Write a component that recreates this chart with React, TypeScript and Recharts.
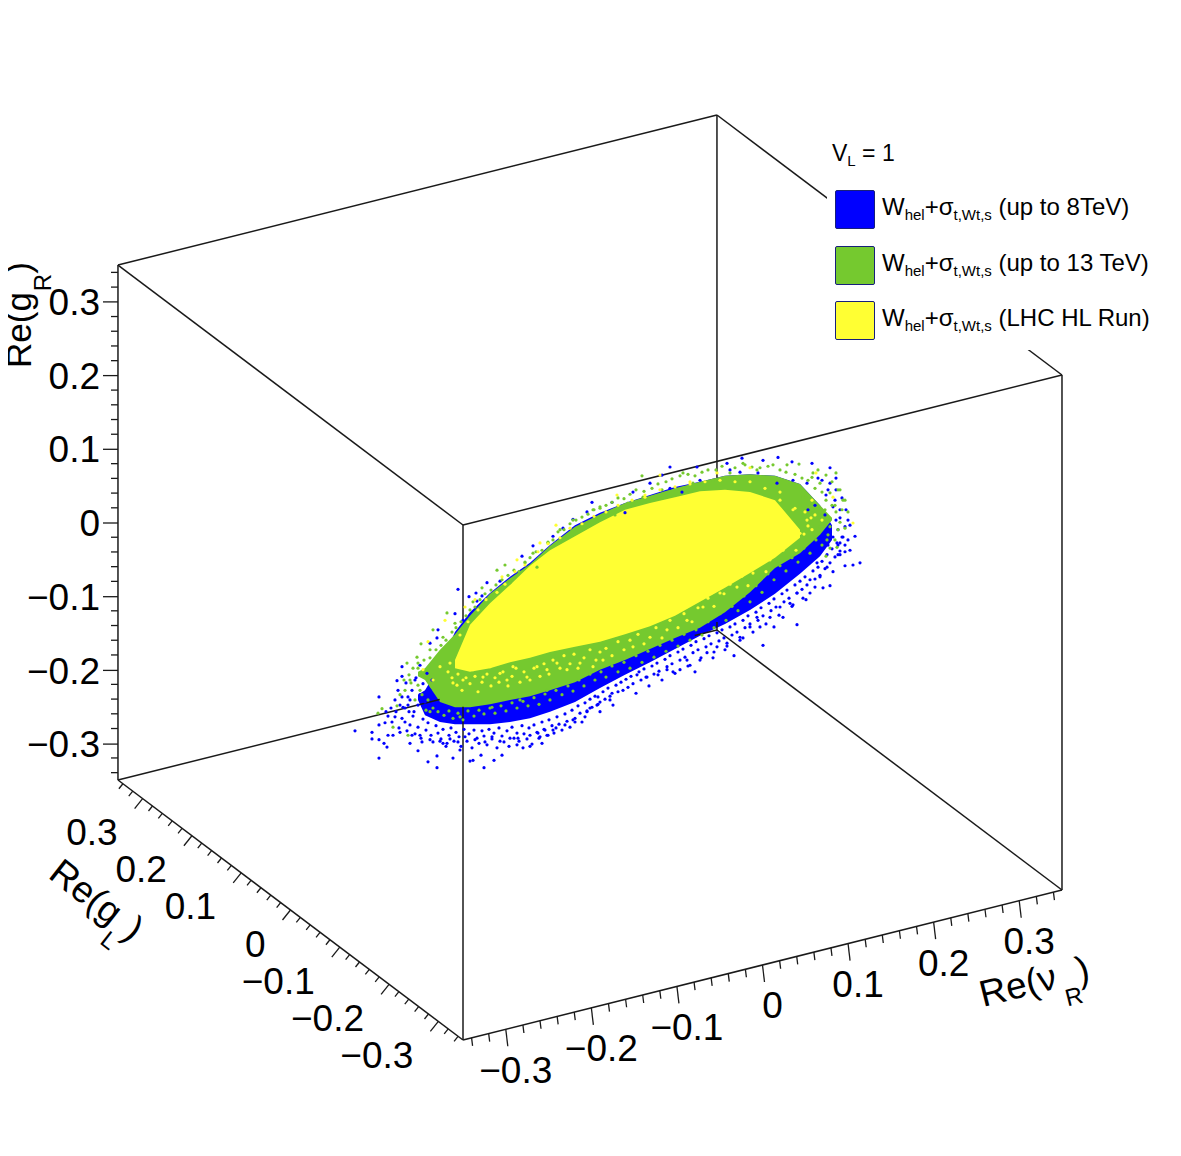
import React from "react";
import { ComposedChart, Area, Scatter, XAxis, YAxis, ReferenceLine, ReferenceDot, Legend } from "recharts";

const FONT = "'Liberation Sans', Arial, sans-serif";
const WIDTH = 1181;
const HEIGHT = 1156;

// axis values
const majorTicks = [-0.3, -0.2, -0.1, 0, 0.1, 0.2, 0.3];
const minorTicks = [-0.34, -0.32, -0.28, -0.26, -0.24, -0.22, -0.18, -0.16, -0.14, -0.12, -0.08, -0.06, -0.04, -0.02, 0.02, 0.04, 0.06, 0.08, 0.12, 0.14, 0.16, 0.18, 0.22, 0.24, 0.26, 0.28, 0.32, 0.34];
const tickText = ["\u22120.3", "\u22120.2", "\u22120.1", "0", "0.1", "0.2", "0.3"];
const boxMin = -0.35;
const boxMax = 0.35;

// legend
const legendTitle = "V";
const seriesColors = ["#0000ff", "#75c92f", "#ffff33"];
const seriesNotes = ["(up to 8TeV)", "(up to 13 TeV)", "(LHC HL Run)"];

// envelope of the dense cloud: picture-plane abscissa, then Re(g_R)-equivalent height per colour
const cloudX = [418, 425, 440, 455, 470, 490, 510, 530, 550, 575, 600, 625, 650, 675, 700, 725, 750, 775, 800, 820, 832];
const blueLow = [-0.24, -0.261, -0.27, -0.273, -0.273, -0.273, -0.27, -0.265, -0.256, -0.243, -0.224, -0.206, -0.189, -0.171, -0.153, -0.137, -0.118, -0.096, -0.069, -0.045, -0.023];
const blueHigh = [-0.233, -0.227, -0.193, -0.148, -0.121, -0.095, -0.073, -0.054, -0.03, -0.003, 0.014, 0.027, 0.038, 0.049, 0.056, 0.064, 0.066, 0.064, 0.053, 0.024, -0.003];
const greenLow = [-0.208, -0.213, -0.243, -0.25, -0.25, -0.246, -0.24, -0.235, -0.227, -0.216, -0.199, -0.186, -0.171, -0.156, -0.142, -0.121, -0.094, -0.061, -0.041, -0.016, 0.004];
const greenHigh = [-0.202, -0.197, -0.172, -0.151, -0.126, -0.096, -0.075, -0.056, -0.031, -0.005, 0.012, 0.027, 0.037, 0.047, 0.056, 0.064, 0.066, 0.064, 0.053, 0.024, 0.007];
const yellowLow = [null, null, null, -0.197, -0.202, -0.197, -0.189, -0.183, -0.175, -0.168, -0.161, -0.151, -0.14, -0.126, -0.107, -0.088, -0.068, -0.047, -0.02, null, null];
const yellowHigh = [null, null, null, -0.186, -0.138, -0.109, -0.084, -0.058, -0.037, -0.018, 0.001, 0.018, 0.027, 0.035, 0.043, 0.045, 0.042, 0.031, -0.009, null, null];

// individually visible points
const bluePoints = [
  [355, -0.282], [372, -0.284], [372, -0.293], [379, -0.294], [379, -0.236], [379, -0.319], [384, -0.299], [387, -0.304], [388, -0.288], [393, -0.288],
  [397, -0.214], [402, -0.208], [402, -0.195], [405, -0.27], [409, -0.256], [410, -0.299], [418, -0.309], [422, -0.297], [428, -0.324], [437, -0.332],
  [437, -0.316], [443, -0.299], [447, -0.299], [453, -0.319], [460, -0.308], [470, -0.323], [473, -0.322], [481, -0.315], [484, -0.332], [494, -0.322],
  [502, -0.315], [517, -0.301], [523, -0.305], [530, -0.303], [542, -0.299], [548, -0.288], [540, -0.29], [553, -0.281], [573, -0.267], [585, -0.263],
  [597, -0.247], [610, -0.24], [458, -0.09], [469, -0.1], [476, -0.095], [522, -0.045], [533, -0.031], [553, -0.018], [563, -0.007], [573, 0.005],
  [587, 0.015], [592, 0.028], [500, -0.079], [487, -0.081], [482, -0.099], [477, -0.106], [463, -0.132], [455, -0.123], [438, -0.145], [437, -0.156],
  [430, -0.163], [420, -0.193], [415, -0.213], [408, -0.236], [403, -0.25], [395, -0.263], [385, -0.271], [379, -0.274],
  [400, -0.284], [412, -0.288], [420, -0.288], [430, -0.294], [440, -0.296], [450, -0.293], [458, -0.297], [465, -0.29], [475, -0.294], [485, -0.297],
  [492, -0.29], [500, -0.296], [510, -0.292], [518, -0.292], [530, -0.288], [538, -0.285], [545, -0.281], [556, -0.278], [565, -0.274], [575, -0.27],
  [587, -0.256], [600, -0.243], [612, -0.231], [598, -0.236], [590, -0.251],
  [860, -0.054], [853, -0.057], [845, -0.058], [855, -0.018], [848, 0.004], [845, -0.039], [840, -0.043], [833, -0.066], [830, -0.085], [823, -0.088],
  [815, -0.087], [806, -0.104], [803, -0.102], [797, -0.138], [793, -0.111], [783, -0.128], [774, -0.141], [763, -0.166], [757, -0.128], [743, -0.156],
  [734, -0.18], [725, -0.172], [713, -0.183], [700, -0.186], [695, -0.202], [687, -0.186], [673, -0.202], [658, -0.206], [812, 0.081], [792, 0.083],
  [778, 0.089], [763, 0.085], [742, 0.088], [727, 0.081], [697, 0.076], [670, 0.076], [662, 0.065], [650, 0.054], [633, 0.042], [612, 0.028],
  [830, 0.075], [830, 0.054], [833, 0.022], [840, 0.007], [808, 0.018], [818, -0.033], [800, -0.05], [817, -0.054], [807, 0.054], [793, 0.058],
  [777, 0.054], [758, 0.068], [740, 0.069], [730, 0.072], [700, 0.058], [682, 0.042], [670, 0.047], [625, 0.014], [833, -0.019], [843, -0.019],
  [840, -0.027], [827, -0.06], [820, -0.073], [810, -0.077], [797, -0.095], [790, -0.109], [780, -0.114], [770, -0.128], [760, -0.141], [750, -0.141],
  [740, -0.155], [727, -0.163], [717, -0.168], [707, -0.176], [690, -0.193], [680, -0.199], [667, -0.199], [647, -0.209], [637, -0.206],
];
const blueFringe = [
  [388, -0.262], [392, -0.27], [396, -0.256], [399, -0.278], [402, -0.265], [405, -0.251], [407, -0.282], [410, -0.274], [413, -0.262], [415, -0.286],
  [418, -0.277], [421, -0.292], [423, -0.266], [426, -0.281], [428, -0.271], [431, -0.288], [433, -0.297], [436, -0.275], [438, -0.285], [441, -0.293],
  [443, -0.28], [446, -0.303], [449, -0.288], [451, -0.278], [454, -0.296], [456, -0.284], [459, -0.29], [461, -0.303], [464, -0.28], [467, -0.296],
  [469, -0.286], [472, -0.305], [474, -0.281], [477, -0.292], [479, -0.299], [482, -0.282], [484, -0.289], [487, -0.301], [489, -0.28], [492, -0.293],
  [494, -0.285], [497, -0.305], [499, -0.278], [502, -0.289], [504, -0.297], [507, -0.282], [509, -0.303], [512, -0.277], [514, -0.292], [517, -0.285],
  [519, -0.296], [522, -0.275], [524, -0.286], [527, -0.293], [529, -0.278], [532, -0.3], [534, -0.274], [537, -0.284], [539, -0.292], [542, -0.27],
  [544, -0.28], [547, -0.288], [549, -0.267], [552, -0.275], [554, -0.285], [557, -0.263], [559, -0.273], [562, -0.281], [565, -0.259], [567, -0.269],
  [570, -0.277], [572, -0.254], [575, -0.265], [578, -0.248], [580, -0.258], [582, -0.27], [585, -0.244], [587, -0.255], [590, -0.239], [592, -0.25],
  [595, -0.235], [598, -0.246], [600, -0.256], [603, -0.229], [605, -0.239], [608, -0.224], [610, -0.235], [613, -0.247], [616, -0.22], [618, -0.229],
  [621, -0.216], [623, -0.227], [626, -0.212], [628, -0.223], [631, -0.208], [633, -0.218], [636, -0.231], [639, -0.202], [641, -0.213], [644, -0.198],
  [646, -0.209], [649, -0.221], [652, -0.194], [654, -0.205], [657, -0.19], [659, -0.201], [662, -0.213], [665, -0.185], [667, -0.195], [670, -0.18],
  [672, -0.191], [675, -0.204], [678, -0.175], [680, -0.186], [683, -0.171], [685, -0.182], [688, -0.194], [691, -0.166], [693, -0.176], [696, -0.161],
  [698, -0.172], [701, -0.183], [704, -0.157], [706, -0.168], [709, -0.153], [711, -0.164], [714, -0.175], [717, -0.149], [719, -0.16], [722, -0.145],
  [724, -0.156], [727, -0.167], [730, -0.141], [732, -0.152], [735, -0.137], [737, -0.148], [740, -0.159], [743, -0.132], [745, -0.142], [748, -0.126],
  [750, -0.137], [753, -0.148], [756, -0.121], [758, -0.132], [761, -0.115], [763, -0.126], [766, -0.137], [769, -0.109], [771, -0.119], [774, -0.103],
  [776, -0.114], [779, -0.125], [782, -0.096], [784, -0.107], [787, -0.091], [789, -0.102], [792, -0.113], [795, -0.084], [797, -0.095], [800, -0.079],
  [802, -0.09], [805, -0.073], [807, -0.084], [810, -0.095], [813, -0.065], [815, -0.076], [818, -0.06], [820, -0.071], [822, -0.052], [825, -0.062],
  [827, -0.043], [830, -0.054], [832, -0.035], [835, -0.046], [837, -0.027], [840, -0.038], [842, -0.019], [838, -0.009], [836, 0.004], [828, -0.009],
  [823, -0.023], [826, 0.038], [835, 0.031], [840, 0.018], [845, -0.005], [848, -0.023], [825, 0.011], [815, 0.024], [838, -0.03],
];
const blueTips = [
  [398, -0.227], [402, -0.236], [406, -0.217], [410, -0.24], [412, -0.227], [416, -0.21], [418, -0.247], [420, -0.233], [423, -0.218], [425, -0.243],
  [427, -0.204], [430, -0.227], [432, -0.213], [414, -0.256], [408, -0.247], [400, -0.247], [395, -0.24], [391, -0.251], [386, -0.256],
  [822, 0.058], [828, 0.045], [836, 0.045], [842, 0.034], [846, 0.018], [850, -0.003], [836, 0.061], [818, 0.061], [845, -0.03], [850, -0.037],
  [838, -0.043], [828, -0.03],
];
const greenPoints = [
  [836, 0.068], [799, 0.08], [787, 0.079], [773, 0.079], [757, 0.072], [743, 0.081], [730, 0.068], [713, 0.058], [693, 0.054], [683, 0.068],
  [662, 0.045], [642, 0.064], [643, 0.035], [628, 0.027], [615, 0.011], [843, 0.031], [848, 0.015], [845, -0.007], [838, 0.045], [820, 0.054],
  [813, 0.068], [830, 0.041], [837, -0.033], [827, -0.023], [820, -0.005], [830, -0.005], [813, 0.014], [803, 0.035],
  [378, -0.258], [382, -0.252], [407, -0.19], [421, -0.164], [433, -0.145], [447, -0.122], [473, -0.107], [482, -0.088], [505, -0.057], [497, -0.064],
  [525, -0.054], [533, -0.041], [548, -0.027], [560, -0.009], [573, 0.004], [593, 0.018], [600, 0.022], [417, -0.182], [410, -0.213], [393, -0.277],
  [408, -0.288], [418, -0.19], [430, -0.172], [443, -0.155], [455, -0.136], [483, -0.114], [510, -0.081], [537, -0.06], [567, -0.019], [587, 0],
  [460, -0.263], [492, -0.25], [520, -0.24], [547, -0.227],
];
const greenTopFringe = [
  [418, -0.197], [424, -0.186], [430, -0.183], [436, -0.172], [441, -0.166], [446, -0.159], [452, -0.148], [456, -0.142], [461, -0.134], [466, -0.126],
  [470, -0.118], [475, -0.114], [480, -0.104], [485, -0.096], [491, -0.091], [496, -0.084], [502, -0.077], [508, -0.071], [514, -0.064], [519, -0.066],
  [525, -0.053], [530, -0.047], [536, -0.039], [542, -0.037], [548, -0.026], [553, -0.023], [558, -0.012], [564, -0.009], [570, -0.001], [576, 0.004],
  [582, 0.008], [588, 0.012], [594, 0.018], [600, 0.02], [606, 0.024], [612, 0.028], [618, 0.034], [624, 0.033], [630, 0.039], [636, 0.045],
  [644, 0.043], [652, 0.047], [658, 0.053], [666, 0.056], [672, 0.06], [680, 0.064], [688, 0.066], [695, 0.064], [702, 0.069], [708, 0.072],
  [716, 0.072], [722, 0.077], [735, 0.075], [745, 0.079], [752, 0.076], [760, 0.075], [768, 0.077], [780, 0.072], [786, 0.069], [795, 0.066],
  [802, 0.061], [808, 0.058], [815, 0.047], [822, 0.042], [826, 0.031], [832, 0.024], [836, 0.015], [840, 0.001], [842, 0.018], [838, -0.009],
  [835, -0.023], [830, -0.034], [826, -0.045],
];
const greenLowFringe = [
  [420, -0.227], [428, -0.24], [433, -0.251], [438, -0.256], [444, -0.261], [449, -0.255], [453, -0.265], [458, -0.258], [463, -0.267], [468, -0.255],
  [474, -0.262], [479, -0.254], [484, -0.259], [490, -0.251], [495, -0.258], [501, -0.248], [506, -0.255], [512, -0.244], [517, -0.251], [523, -0.242],
  [528, -0.248], [534, -0.237], [539, -0.246], [545, -0.232], [550, -0.24], [556, -0.227], [562, -0.233], [568, -0.221], [573, -0.228], [579, -0.213],
  [584, -0.221], [590, -0.205], [595, -0.213], [601, -0.202], [606, -0.209], [612, -0.194], [618, -0.202], [624, -0.189], [630, -0.197], [636, -0.18],
  [642, -0.189], [648, -0.174], [654, -0.182], [660, -0.166], [666, -0.174], [672, -0.159], [678, -0.167], [684, -0.151], [690, -0.159], [696, -0.145],
  [702, -0.152], [708, -0.134], [714, -0.142], [720, -0.123], [726, -0.132], [732, -0.113], [738, -0.119], [744, -0.099], [750, -0.107], [756, -0.085],
  [762, -0.094], [768, -0.069], [774, -0.077], [780, -0.058], [786, -0.065], [792, -0.047], [798, -0.053], [804, -0.034], [810, -0.041], [816, -0.023],
  [822, -0.03], [828, -0.016],
];
const greenTips = [
  [400, -0.233], [405, -0.227], [409, -0.206], [413, -0.197], [418, -0.22], [422, -0.233], [415, -0.24], [426, -0.254], [430, -0.256], [411, -0.217],
  [404, -0.213], [397, -0.248],
  [825, 0.018], [830, 0.004], [835, 0.024], [840, 0.045], [820, 0.011], [826, 0.065], [832, 0.056], [845, 0.031], [818, 0.072], [812, 0.062],
];
const yellowPoints = [
  [556, -0.003], [540, -0.027], [517, -0.05], [502, -0.073], [475, -0.104], [465, -0.114], [445, -0.132], [428, -0.161], [853, 0], [816, 0.068],
  [833, 0.035], [750, 0.075], [717, 0.068], [690, 0.056], [660, 0.065], [645, 0.035], [617, 0.038],
  [457, -0.22], [463, -0.213], [473, -0.199], [483, -0.209], [490, -0.195], [500, -0.204], [507, -0.213], [513, -0.195], [527, -0.209], [537, -0.195],
  [547, -0.199], [557, -0.19], [567, -0.199], [580, -0.19], [593, -0.195], [603, -0.186], [450, -0.19], [440, -0.195], [453, -0.217], [433, -0.213],
  [423, -0.199], [633, -0.168], [650, -0.155], [667, -0.145], [687, -0.132], [703, -0.114], [720, -0.095], [737, -0.087], [753, -0.068], [770, -0.05],
  [783, -0.037], [800, -0.014], [807, 0.004], [793, 0.018], [780, 0.031], [815, 0.011], [822, 0.004], [812, 0.031],
];
const yellowFringe = [
  [448, -0.202], [452, -0.21], [458, -0.205], [462, -0.227], [466, -0.21], [470, -0.218], [475, -0.208], [478, -0.229], [482, -0.216], [487, -0.205],
  [491, -0.221], [495, -0.21], [499, -0.216], [503, -0.202], [508, -0.221], [512, -0.208], [516, -0.197], [520, -0.216], [524, -0.202], [530, -0.213],
  [534, -0.197], [540, -0.208], [544, -0.191], [549, -0.205], [553, -0.186], [560, -0.197], [564, -0.18], [570, -0.191], [574, -0.178], [578, -0.197],
  [584, -0.183], [590, -0.172], [596, -0.186], [600, -0.175], [606, -0.17], [612, -0.18], [618, -0.161], [624, -0.172], [630, -0.159], [638, -0.151],
  [644, -0.164], [656, -0.142], [662, -0.156], [670, -0.132], [678, -0.142], [684, -0.123], [692, -0.134], [698, -0.115], [708, -0.102], [714, -0.113],
  [724, -0.096], [730, -0.083], [742, -0.072], [748, -0.085], [758, -0.056], [766, -0.066], [778, -0.037], [788, -0.028], [796, -0.037], [804, -0.015],
  [808, -0.004], [811, 0.007],
  [460, -0.152], [468, -0.134], [478, -0.118], [486, -0.104], [497, -0.094], [505, -0.083], [515, -0.066], [525, -0.057], [538, -0.039], [548, -0.028],
  [560, -0.02], [570, -0.007], [582, -0.001], [594, 0.009], [606, 0.015], [618, 0.024], [632, 0.031], [645, 0.038], [660, 0.045], [675, 0.049],
  [690, 0.053], [705, 0.056], [720, 0.058], [735, 0.056], [750, 0.056], [765, 0.047], [780, 0.042], [795, 0.02], [805, 0.015], [812, -0.009],
];

// picture plane: horizontal coordinate in px, vertical coordinate expressed in Re(g_R) units
const GR_SCALE = 737;
const G0 = 523;
const project = (vR: number, gL: number, gR: number) => {
  const px = 463 + 855.7 * (vR - boxMin) - 492.9 * (gL - boxMin);
  const py = 1040 - 214.3 * (vR - boxMin) - 371.4 * (gL - boxMin) - 735.7 * (gR - boxMin);
  return { x: px, y: (G0 - py) / GR_SCALE };
};
const yTop = G0 / GR_SCALE;
const yBottom = (G0 - HEIGHT) / GR_SCALE;

const rows = cloudX.map((x, i) => ({
  x,
  blue: [blueLow[i], blueHigh[i]],
  green: [greenLow[i], greenHigh[i]],
  yellow: yellowLow[i] === null ? null : [yellowLow[i], yellowHigh[i]],
}));
const toPts = (a: number[][]) => a.map(([x, y]) => ({ x, y }));

const m = boxMin;
const M = boxMax;
// box edges; the ones the cloud passes in front of are broken where it hides them
const edges = [
  [[m, M, m], [0.026, M, m]], [[0.324, M, m], [M, M, m]],
  [[m, M, m], [m, m, m]], [[m, m, m], [M, m, m]], [[M, m, m], [M, M, m]],
  [[m, M, M], [m, m, M]], [[m, m, M], [M, m, M]], [[M, m, M], [M, M, M]], [[M, M, M], [m, M, M]],
  [[m, M, m], [m, M, M]],
  [[m, m, m], [m, m, 0.103]], [[m, m, 0.221], [m, m, M]],
  [[M, m, m], [M, m, M]],
  [[M, M, m], [M, M, -0.339]], [[M, M, -0.143], [M, M, M]],
];

const offsetPoint = (p: { x: number; y: number }, dx: number, dy: number) => ({ x: p.x + dx, y: p.y - dy / GR_SCALE });

const Dot = (color: string) => (p: any) => <circle cx={p.cx} cy={p.cy} r={1.6} fill={color} />;

const seg = (a: { x: number; y: number }, b: { x: number; y: number }, key: string, w = 1.3) => (
  <ReferenceLine key={key} segment={[a, b]} stroke="#1a1a1a" strokeWidth={w} ifOverflow="visible" />
);

const axisTicks: React.ReactNode[] = [];
majorTicks.forEach((v) => {
  const a = project(v, boxMin, boxMin);
  axisTicks.push(seg(a, offsetPoint(a, 2, 17), `vM${v}`));
  const b = project(boxMin, v, boxMin);
  axisTicks.push(seg(b, offsetPoint(b, -8, 10), `lM${v}`));
});
minorTicks.forEach((v) => {
  const a = project(v, boxMin, boxMin);
  axisTicks.push(seg(a, offsetPoint(a, 1, 8), `vm${v}`));
  const b = project(boxMin, v, boxMin);
  axisTicks.push(seg(b, offsetPoint(b, -4, 5), `lm${v}`));
  const c = project(boxMin, boxMax, v);
  axisTicks.push(seg(c, offsetPoint(c, -7, 0), `rm${v}`));
});

const textLabel = (key: string, at: { x: number; y: number }, node: (cx: number, cy: number) => React.ReactElement) => (
  <ReferenceDot key={key} x={at.x} y={at.y} r={0} ifOverflow="visible" shape={(p: any) => node(p.cx, p.cy)} />
);

const tickLabelStyle = { fontFamily: FONT, fontSize: 37, fill: "#000" };

const axisLabels: React.ReactNode[] = [];
majorTicks.forEach((v, i) => {
  axisLabels.push(
    textLabel(`vt${v}`, project(v, boxMin, boxMin), (cx, cy) => (
      <text x={cx + 10} y={cy + 41} textAnchor="middle" dominantBaseline="central" {...tickLabelStyle}>{tickText[i]}</text>
    )),
  );
  axisLabels.push(
    textLabel(`lt${v}`, project(boxMin, v, boxMin), (cx, cy) => (
      <text x={cx - 25} y={cy + 34} textAnchor="end" dominantBaseline="central" {...tickLabelStyle}>{tickText[i]}</text>
    )),
  );
});

const title = (key: string, tx: number, ty: number, angle: number, body: string, sub: string, gap: number, size: number) =>
  textLabel(key, project(0, 0, 0), () => (
    <text x={tx} y={ty} transform={`rotate(${angle} ${tx} ${ty})`} fontFamily={FONT} fontSize={size} fill="#000">
      {body}
      <tspan fontSize={24} dx={gap} dy={20}>{sub}</tspan>
      <tspan dy={-20}>)</tspan>
    </text>
  ));

const Sub = ({ children }: { children: React.ReactNode }) => (
  <sub style={{ fontSize: 15, lineHeight: 0, verticalAlign: -5 }}>{children}</sub>
);

const LegendBox = () => (
  <div style={{ position: "relative", width: 330, height: 213, background: "#fff", fontFamily: FONT, color: "#000" }}>
    <div style={{ position: "absolute", left: 5, top: 3, fontSize: 23, lineHeight: "26px", whiteSpace: "nowrap" }}>
      {legendTitle}
      <Sub>L</Sub> = 1
    </div>
    {seriesColors.map((c, i) => (
      <div key={c}>
        <div
          style={{
            position: "absolute",
            left: 8,
            top: 53 + i * 55.5,
            width: 38,
            height: 37,
            background: c,
            border: "1.5px solid #17207a",
            borderRadius: 2,
          }}
        />
        <div
          style={{
            position: "absolute",
            left: 55,
            top: 56 + i * 55.5,
            fontSize: 24,
            lineHeight: "28px",
            whiteSpace: "nowrap",
          }}
        >
          W<Sub>hel</Sub>+{"\u03c3"}<Sub>t,Wt,s</Sub> {seriesNotes[i]}
        </div>
      </div>
    ))}
  </div>
);

export default function App() {
  return (
    <div style={{ margin: "-8px 0 0 -8px", width: WIDTH, height: HEIGHT, background: "#fff" }}>
      <ComposedChart width={WIDTH} height={HEIGHT} data={rows} margin={{ top: 0, right: 0, bottom: 0, left: 0 }}>
        <XAxis dataKey="x" type="number" domain={[118, WIDTH]} hide allowDataOverflow />
        <YAxis
          dataKey="y"
          type="number"
          domain={[yBottom, yTop]}
          width={118}
          ticks={majorTicks}
          interval={0}
          axisLine={false}
          tickSize={15}
          tickMargin={3}
          tickLine={{ stroke: "#1a1a1a", strokeWidth: 1.3 }}
          tick={{ ...tickLabelStyle }}
          tickFormatter={(v: number) => tickText[majorTicks.findIndex((t) => Math.abs(t - v) < 1e-6)] ?? ""}
          allowDataOverflow
        />
        {edges.map(([a, b], i) =>
          seg(project(a[0], a[1], a[2]), project(b[0], b[1], b[2]), `edge${i}`, 1.5),
        )}
        {axisTicks}
        <Area dataKey="blue" type="linear" stroke="none" fill={seriesColors[0]} fillOpacity={1} dot={false} activeDot={false} isAnimationActive={false} />
        <Scatter data={toPts(bluePoints)} dataKey="y" shape={Dot(seriesColors[0])} isAnimationActive={false} />
        <Scatter data={toPts(blueFringe)} dataKey="y" shape={Dot(seriesColors[0])} isAnimationActive={false} />
        <Scatter data={toPts(blueTips)} dataKey="y" shape={Dot(seriesColors[0])} isAnimationActive={false} />
        <Area dataKey="green" type="linear" stroke="none" fill={seriesColors[1]} fillOpacity={1} dot={false} activeDot={false} isAnimationActive={false} />
        <Scatter data={toPts(greenPoints)} dataKey="y" shape={Dot(seriesColors[1])} isAnimationActive={false} />
        <Scatter data={toPts(greenTopFringe)} dataKey="y" shape={Dot(seriesColors[1])} isAnimationActive={false} />
        <Scatter data={toPts(greenLowFringe)} dataKey="y" shape={Dot(seriesColors[1])} isAnimationActive={false} />
        <Scatter data={toPts(greenTips)} dataKey="y" shape={Dot(seriesColors[1])} isAnimationActive={false} />
        <Area dataKey="yellow" type="linear" stroke="none" fill={seriesColors[2]} fillOpacity={1} dot={false} activeDot={false} isAnimationActive={false} />
        <Scatter data={toPts(yellowPoints)} dataKey="y" shape={Dot(seriesColors[2])} isAnimationActive={false} />
        <Scatter data={toPts(yellowFringe)} dataKey="y" shape={Dot(seriesColors[2])} isAnimationActive={false} />
        {axisLabels}
        {title("titleR", 31, 368, -90, "Re(g", "R", 1, 35)}
        {title("titleL", 47, 877, 38, "Re(g", "L", 1, 37)}
        {title("titleV", 983, 1007, -14, "Re(\u03bd", "R", 4, 37)}
        <Legend
          layout="horizontal"
          verticalAlign="middle"
          align="center"
          content={<LegendBox />}
          wrapperStyle={{ position: "absolute", left: 827, top: 137, width: 330, height: 213, margin: 0 }}
        />
      </ComposedChart>
    </div>
  );
}
